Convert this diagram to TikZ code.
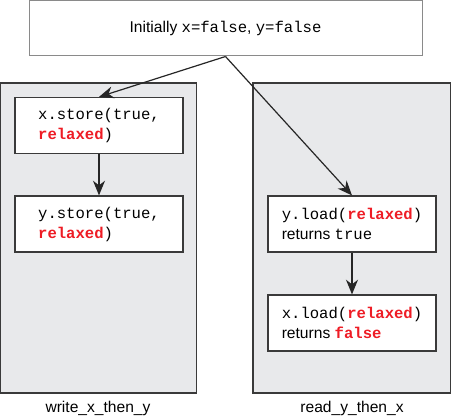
\documentclass[tikz,border=0pt]{standalone}
\usepackage{fontspec}
\setmainfont{Liberation Sans}
\setmonofont{Liberation Mono}
\usetikzlibrary{arrows.meta}
\definecolor{panelgray}{HTML}{E8E9EB}
\definecolor{linegray}{HTML}{3A3A3A}
\definecolor{initgray}{HTML}{8A8A8A}
\definecolor{relaxred}{HTML}{EE1C25}
\newcommand{\rlx}[1]{\textcolor{relaxred}{\bfseries #1}}
\begin{document}
\begin{tikzpicture}[>={Stealth[length=11pt,width=9pt,inset=3.5pt]},x=0.75pt,y=-0.75pt,
    font=\fontsize{11.7}{15}\selectfont,
    thread/.style={draw=linegray,fill=panelgray,line width=0.9pt},
    opbox/.style={draw=linegray,fill=white,line width=0.9pt,align=left,
        minimum width=126pt,minimum height=42pt,inner sep=0pt},
    flow/.style={->,line width=0.9pt,draw=black!85}]
            \useasboundingbox (0,0) rectangle (451,417);
            % thread panels
            \draw[thread] (0.7,83) rectangle (196.5,393);
            \draw[thread] (253,83) rectangle (450.3,393);
            \node[draw=initgray,fill=white,line width=0.75pt,minimum width=294.75pt,minimum height=41.25pt] (init) at (225.5,28.5) {Initially \texttt{x=false}, \texttt{y=false}};
            \node[opbox] (xst) at (99,125.5) {\texttt{x.store(true,}\\\texttt{\rlx{relaxed})}};
            \node[opbox] (yst) at (99,224) {\texttt{y.store(true,}\\\texttt{\rlx{relaxed})}};
            \node[opbox] (yld) at (352,224) {\texttt{y.load(\rlx{relaxed})}\\returns \texttt{true}};
            \node[opbox] (xld) at (352,323) {\texttt{x.load(\rlx{relaxed})}\\returns \texttt{\rlx{false}}};
            \node (wlab) at (98,408) {write\_x\_then\_y};
            \node (rlab) at (352,408) {read\_y\_then\_x};
            % happens-before arrows
            \draw[flow] (init.south) -- (xst.north);
            \draw[flow] (init.south) -- (yld.north);
            \draw[flow] (xst) -- (yst);
            \draw[flow] (yld) -- (xld);
    \end{tikzpicture}
\end{document}
